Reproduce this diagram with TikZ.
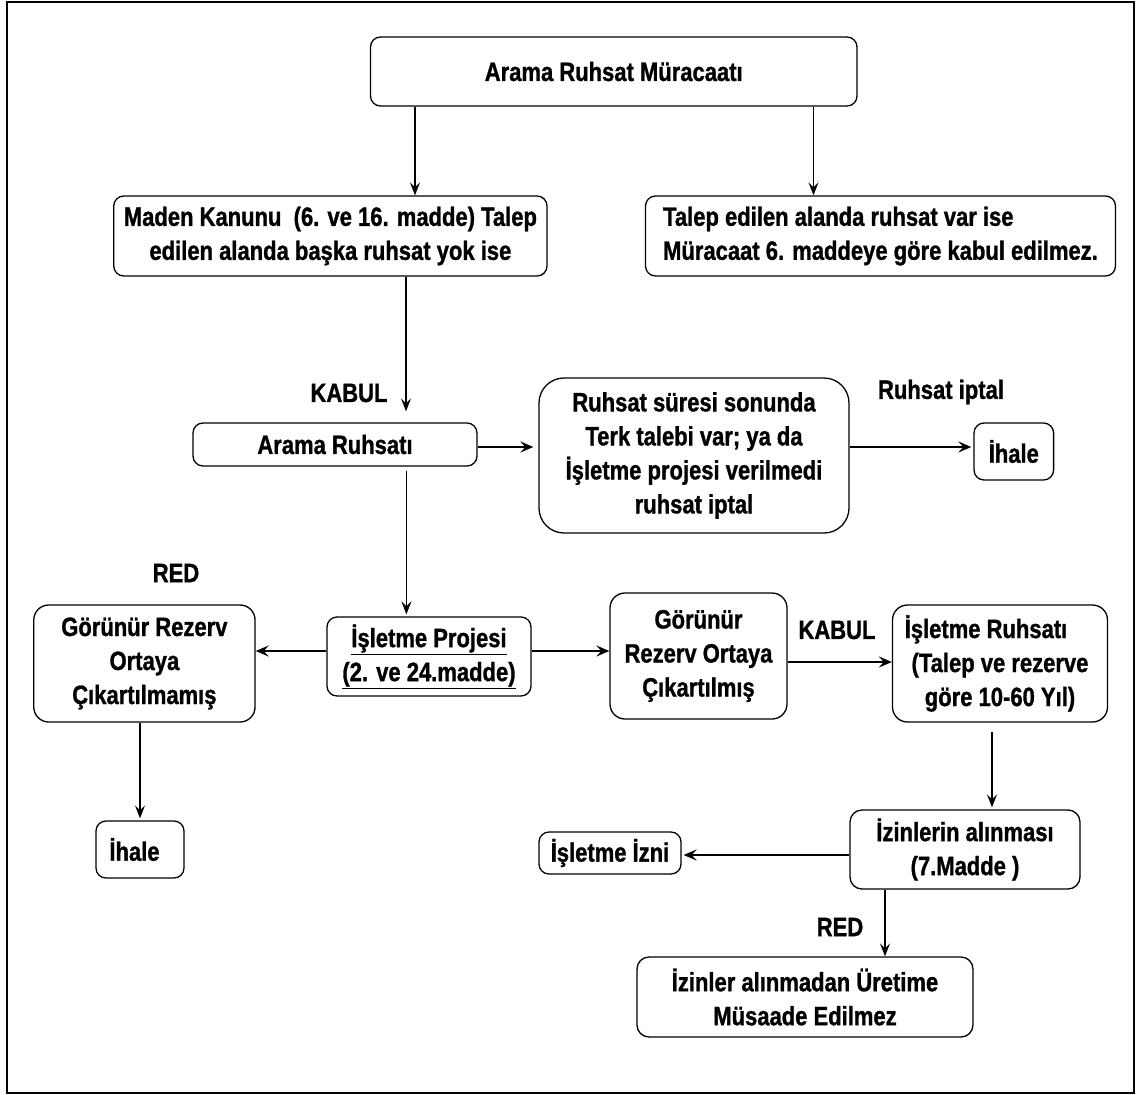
\documentclass[tikz,border=0pt]{standalone}
\usepackage{fontspec}
\setmainfont{Liberation Sans}[FakeStretch=0.83,FakeBold=1.1]
\usetikzlibrary{arrows.meta,calc}
\newcommand\fszz{\fontsize{26.5}{34}\selectfont}
\tikzset{
  box/.style={draw, line width=1.3pt, rounded corners=10pt, align=center, inner sep=0pt, font=\bfseries\fszz},
  lbl/.style={inner sep=0pt, font=\bfseries\fszz},
  conn/.style={line width=1.4pt, -{Stealth[length=13pt,width=10pt,inset=5pt]}},
  connb/.style={line width=2.2pt, -{Stealth[length=13pt,width=11pt,inset=5pt]}}
}
\begin{document}
\begin{tikzpicture}[x=1pt,y=-1pt]
\useasboundingbox (0,0) rectangle (1136,1095);
\draw[line width=2.6pt] (7,2) rectangle (1134,1093);

\node[box, minimum width=486.5pt, minimum height=69pt] (top) at (613.75,71.5) {Arama Ruhsat Müracaatı};
\node[box, minimum width=433.3pt, minimum height=80pt] (maden) at (330.4,236) {Maden Kanunu\ \ (6. ve 16. madde) Talep\\edilen alanda başka ruhsat yok ise};
\node[box, minimum width=470pt, minimum height=80pt, align=left] (talep) at (880.5,236) {Talep edilen alanda ruhsat var ise\\Müracaat 6. maddeye göre kabul edilmez.};
\node[box, minimum width=284pt, minimum height=43pt] (aramaR) at (335,444.5) {Arama Ruhsatı};
\node[box, minimum width=310pt, minimum height=155pt, rounded corners=25pt] (suresi) at (694,455.5) {Ruhsat süresi sonunda\\Terk talebi var; ya da\\İşletme projesi verilmedi\\ruhsat iptal};
\node[box, minimum width=79.6pt, minimum height=57pt] (ihaleA) at (1013.8,451.5) {İhale};
\node[box, minimum width=204pt, minimum height=79pt] (proje) at (429,656.5) {\underline{İşletme Projesi}\\\underline{(2. ve 24.madde)}};
\node[box, minimum width=221.3pt, minimum height=117pt, rounded corners=15pt] (gmez) at (144.4,663.5) {Görünür Rezerv\\Ortaya\\Çıkartılmamış};
\node[box, minimum width=177pt, minimum height=126pt, rounded corners=15pt] (gmis) at (698.5,656) {Görünür\\Rezerv Ortaya\\Çıkartılmış};
\node[box, minimum width=215pt, minimum height=117pt, rounded corners=15pt] (isr) at (1000,663.5) {İşletme Ruhsatı\hspace*{28pt}\\(Talep ve rezerve\\göre 10-60 Yıl)};
\node[box, minimum width=88pt, minimum height=57pt] (ihaleB) at (140,849.5) {İhale\hspace*{11pt}};
\node[box, minimum width=230pt, minimum height=79pt, rounded corners=12pt] (izin) at (965,849.5) {İzinlerin alınması\\(7.Madde )};
\node[box, minimum width=142pt, minimum height=42pt] (isizni) at (610,853) {İşletme İzni};
\node[box, minimum width=336pt, minimum height=80pt, rounded corners=12pt] (uretim) at (805,997) {İzinler alınmadan Üretime\\Müsaade Edilmez};

\node[lbl] (kabulA) at (349,393) {KABUL};
\node[lbl] (iptal) at (941,392) {Ruhsat iptal};
\node[lbl] (redA) at (176,573) {RED};
\node[lbl] (kabulB) at (837,630) {KABUL};
\node[lbl] (redB) at (840,927) {RED};

\draw[conn] ($(top.south)+(-198.75,0)$) -- ($(maden.north)+(84.6,0)$);
\draw[conn] ($(top.south)+(199.75,0)$) -- ($(talep.north)+(-67,0)$);
\draw[conn, shorten >=11pt] ($(maden.south)+(75.6,0)$) -- ($(aramaR.north)+(71,0)$);
\draw[connb, shorten >=5pt] ($(aramaR.east)+(0,2.5)$) -- ($(suresi.west)+(0,-8.5)$);
\draw[connb, shorten >=2pt] ($(suresi.east)+(0,-8.5)$) -- ($(ihaleA.west)+(0,-4.5)$);
\draw[conn, shorten <=4pt, shorten >=2pt] ($(aramaR.south)+(71.4,0)$) -- ($(proje.north)+(-22.6,0)$);
\draw[connb] ($(proje.west)+(0,-5.5)$) -- ($(gmez.east)+(0,-12.5)$);
\draw[connb] ($(proje.east)+(0,-5.5)$) -- ($(gmis.west)+(0,-5)$);
\draw[connb] ($(gmis.east)+(0,6)$) -- ($(isr.west)+(0,-1.5)$);
\draw[conn, shorten >=2pt] ($(gmez.south)+(-4.4,0)$) -- (ihaleB.north);
\draw[conn, shorten <=9pt, shorten >=2pt] ($(isr.south)+(-8,0)$) -- ($(izin.north)+(27,0)$);
\draw[connb, shorten >=2pt] ($(izin.west)+(0,5.5)$) -- ($(isizni.east)+(0,2)$);
\draw[conn] ($(izin.south)+(-80,0)$) -- ($(uretim.north)+(80,0)$);
\end{tikzpicture}
\end{document}
